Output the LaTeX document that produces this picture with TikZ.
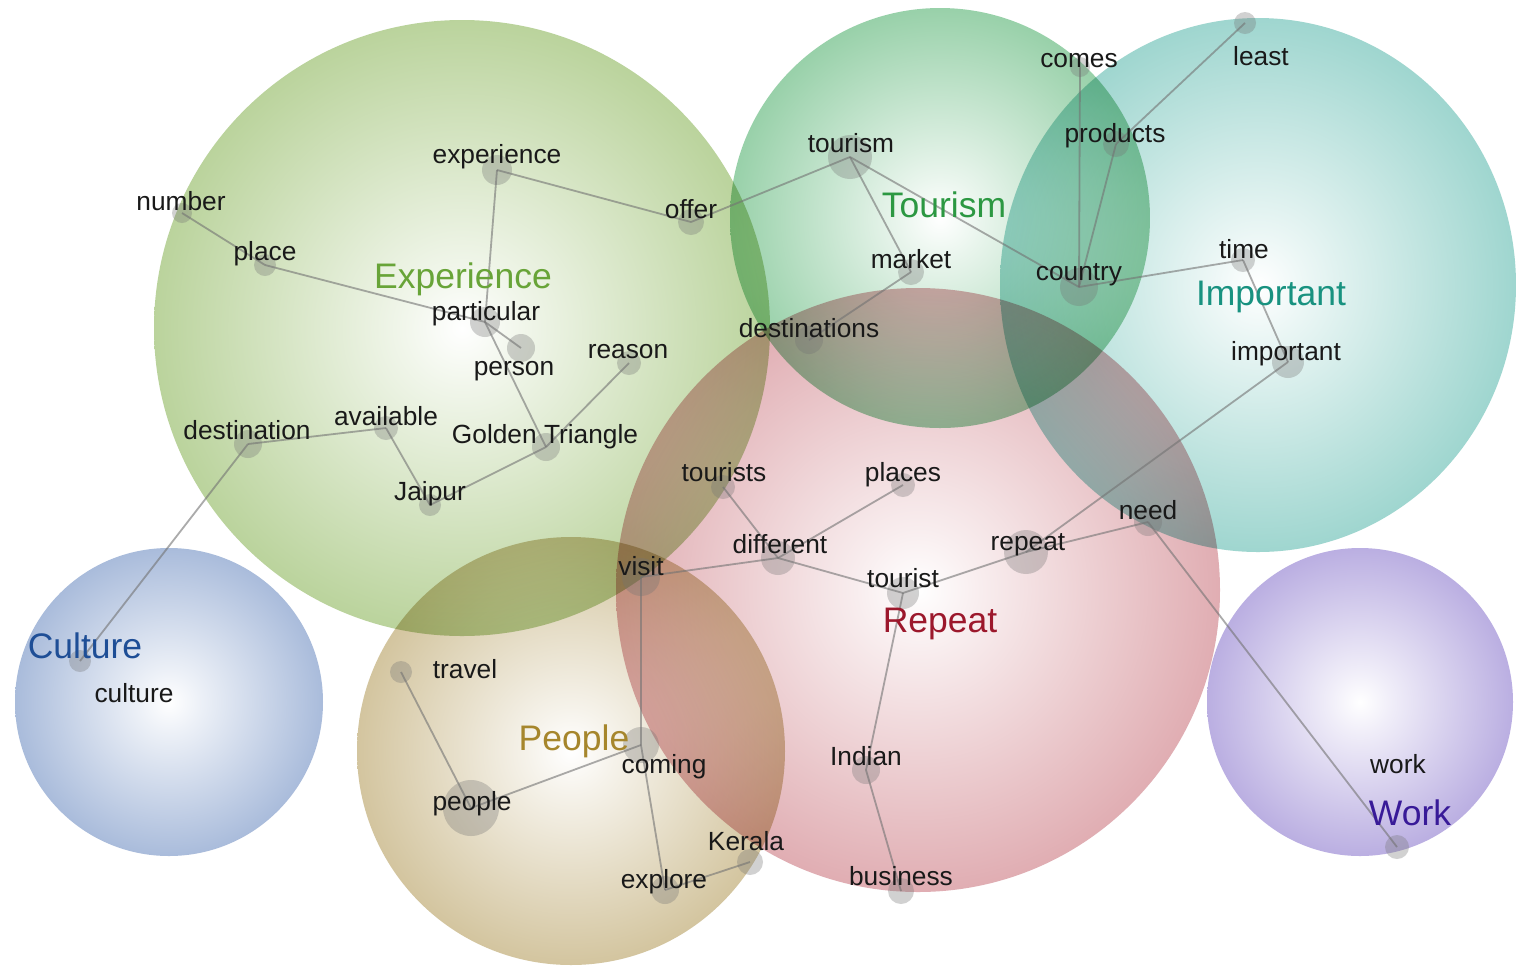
\documentclass[tikz,border=0pt]{standalone}
\usepackage{fontspec}
\setmainfont{Liberation Sans}

% theme bubble colours (rim) and theme title colours
\definecolor{cExp}{RGB}{150,188,104}
\definecolor{cTour}{RGB}{98,184,124}
\definecolor{cImp}{RGB}{108,192,182}
\definecolor{cRep}{RGB}{208,130,138}
\definecolor{cPeo}{RGB}{188,166,108}
\definecolor{cCul}{RGB}{124,152,200}
\definecolor{cWork}{RGB}{150,132,210}
\definecolor{tExp}{RGB}{104,164,56}
\definecolor{tTour}{RGB}{44,152,66}
\definecolor{tImp}{RGB}{24,146,128}
\definecolor{tRep}{RGB}{156,24,44}
\definecolor{tPeo}{RGB}{166,134,44}
\definecolor{tCul}{RGB}{30,78,150}
\definecolor{tWork}{RGB}{56,26,152}

% white core fading into the rim colour
\newcommand\bubbleshade[2]{%
  \pgfdeclareradialshading{#1}{\pgfpoint{0bp}{0bp}}%
    {color(0bp)=(white); color(5bp)=(#2!14!white); color(26bp)=(#2!68!white); color(50bp)=(#2)}}
\bubbleshade{shExp}{cExp}
\bubbleshade{shTour}{cTour}
\bubbleshade{shImp}{cImp}
\bubbleshade{shRep}{cRep}
\bubbleshade{shPeo}{cPeo}
\bubbleshade{shCul}{cCul}
\bubbleshade{shWork}{cWork}

\pgfdeclarelayer{bubbles}
\pgfdeclarelayer{links}
\pgfsetlayers{bubbles,links,main}

\begin{document}
\begin{tikzpicture}[x=0.5pt,y=-0.5pt,
  word/.style={font=\fontsize{13.15}{15}\selectfont, text=black!90, inner sep=0pt, anchor=base},
  theme/.style={font=\fontsize{17.75}{20}\selectfont, inner sep=0pt, anchor=base},
  cdot/.style={circle, fill=black!55, fill opacity=0.32, draw=none, inner sep=0pt, minimum size=#1pt},
  link/.style={draw=black!55, line width=0.9pt, draw opacity=0.6},
  bubble/.style={shading=#1, blend mode=multiply}
]
\useasboundingbox (0,0) rectangle (1517,966);

% ---- theme bubbles
\begin{pgfonlayer}{bubbles}
  \fill[white] (0,0) rectangle (1517,966);
  \shade[bubble=shExp]  (462,328)  ellipse [x radius=308, y radius=308];
  \shade[bubble=shCul]  (169,702)  ellipse [x radius=154, y radius=154];
  \shade[bubble=shWork] (1360,702) ellipse [x radius=153, y radius=154];
  \shade[bubble=shImp]  (1258,285) ellipse [x radius=258, y radius=267];
  \shade[bubble=shRep]  (918,590)  ellipse [x radius=302, y radius=302];
  \shade[bubble=shPeo]  (571,751)  ellipse [x radius=214, y radius=214];
  \shade[bubble=shTour] (940,218)  ellipse [x radius=210, y radius=210];
\end{pgfonlayer}

% ---- concept dots
\node[cdot=10] (number)       at (182,213) {};
\node[cdot=11] (place)        at (265,265) {};
\node[cdot=15] (experience)   at (497,170) {};
\node[cdot=13] (offer)        at (691,222) {};
\node[cdot=15] (particular)   at (485,322) {};
\node[cdot=14] (person)       at (521,348) {};
\node[cdot=12] (reason)       at (629,363) {};
\node[cdot=14] (goldentri)    at (546,447) {};
\node[cdot=12] (available)    at (386,428) {};
\node[cdot=14] (destination)  at (248,444) {};
\node[cdot=11] (jaipur)       at (430,505) {};
\node[cdot=22] (tourism)      at (850,157) {};
\node[cdot=13] (market)       at (911,272) {};
\node[cdot=14] (destinations) at (809,340) {};
\node[cdot=10] (comes)        at (1080,67) {};
\node[cdot=13] (products)     at (1116,144) {};
\node[cdot=19] (country)      at (1079,287) {};
\node[cdot=11] (least)        at (1245,23) {};
\node[cdot=12] (time)         at (1243,260) {};
\node[cdot=16] (important)    at (1288,362) {};
\node[cdot=12] (tourists)     at (723,487) {};
\node[cdot=12] (places)       at (903,485) {};
\node[cdot=17] (different)    at (778,558) {};
\node[cdot=19] (visit)        at (641,577) {};
\node[cdot=16] (tourist)      at (903,593) {};
\node[cdot=22] (repeat)       at (1026,552) {};
\node[cdot=14] (need)         at (1148,522) {};
\node[cdot=14] (indian)       at (866,770) {};
\node[cdot=13] (business)     at (901,891) {};
\node[cdot=11] (travel)       at (401,672) {};
\node[cdot=28] (people)       at (471,808) {};
\node[cdot=18] (coming)       at (641,745) {};
\node[cdot=14] (explore)      at (665,890) {};
\node[cdot=13] (kerala)       at (750,862) {};
\node[cdot=11] (culture)      at (80,661) {};
\node[cdot=12] (work)         at (1397,847) {};

% ---- links between concepts
\begin{pgfonlayer}{links}
  \foreach \a/\b in {number/place, place/particular, experience/particular,
      experience/offer, offer/tourism, particular/person, particular/goldentri,
      reason/goldentri, goldentri/jaipur, jaipur/available, available/destination,
      destination/culture, tourism/market, tourism/country, market/destinations,
      comes/country, products/country, products/least, country/time,
      time/important, important/repeat, repeat/tourist, repeat/need, need/work,
      tourist/different, different/places, different/tourists, different/visit,
      visit/coming, coming/explore, coming/people, people/travel, explore/kerala,
      tourist/indian, indian/business}
    \draw[link] (\a.center) -- (\b.center);
\end{pgfonlayer}

% ---- concept labels
\node[word] (lnumber)       at (181,210) {number};
\node[word] (lplace)        at (265,260) {place};
\node[word] (lexperience)   at (497,163) {experience};
\node[word] (loffer)        at (691,218) {offer};
\node[word] (lparticular)   at (486,320) {particular};
\node[word] (lperson)       at (514,375) {person};
\node[word] (lreason)       at (628,358) {reason};
\node[word] (lgoldentri)    at (545,443) {Golden Triangle};
\node[word] (lavailable)    at (386,425) {available};
\node[word] (ldestination)  at (247,439) {destination};
\node[word] (ljaipur)       at (430,500) {Jaipur};
\node[word] (ltourism)      at (851,152) {tourism};
\node[word] (lmarket)       at (911,268) {market};
\node[word] (ldestinations) at (809,337) {destinations};
\node[word] (lcomes)        at (1079,67) {comes};
\node[word] (lproducts)     at (1115,142) {products};
\node[word] (lcountry)      at (1079,280) {country};
\node[word] (lleast)        at (1261,65) {least};
\node[word] (ltime)         at (1244,258) {time};
\node[word] (limportant)    at (1286,360) {important};
\node[word] (ltourists)     at (724,481) {tourists};
\node[word] (lplaces)       at (903,481) {places};
\node[word] (ldifferent)    at (780,553) {different};
\node[word] (lvisit)        at (641,575) {visit};
\node[word] (ltourist)      at (903,587) {tourist};
\node[word] (lrepeat)       at (1028,550) {repeat};
\node[word] (lneed)         at (1148,519) {need};
\node[word] (lindian)       at (866,765) {Indian};
\node[word] (lbusiness)     at (901,885) {business};
\node[word] (ltravel)       at (465,678) {travel};
\node[word] (lpeople)       at (472,810) {people};
\node[word] (lcoming)       at (664,773) {coming};
\node[word] (lexplore)      at (664,888) {explore};
\node[word] (lkerala)       at (746,850) {Kerala};
\node[word] (lculture)      at (134,702) {culture};
\node[word] (lwork)         at (1398,773) {work};

% ---- theme titles
\node[theme, text=tExp]  (tExperience) at (463,288) {Experience};
\node[theme, text=tTour] (tTourism)    at (944,217) {Tourism};
\node[theme, text=tImp]  (tImportant)  at (1271,305) {Important};
\node[theme, text=tRep]  (tRepeat)     at (940,632) {Repeat};
\node[theme, text=tPeo]  (tPeople)     at (574,750) {People};
\node[theme, text=tCul]  (tCulture)    at (85,658) {Culture};
\node[theme, text=tWork] (tWork)       at (1410,825) {Work};
\end{tikzpicture}
\end{document}
